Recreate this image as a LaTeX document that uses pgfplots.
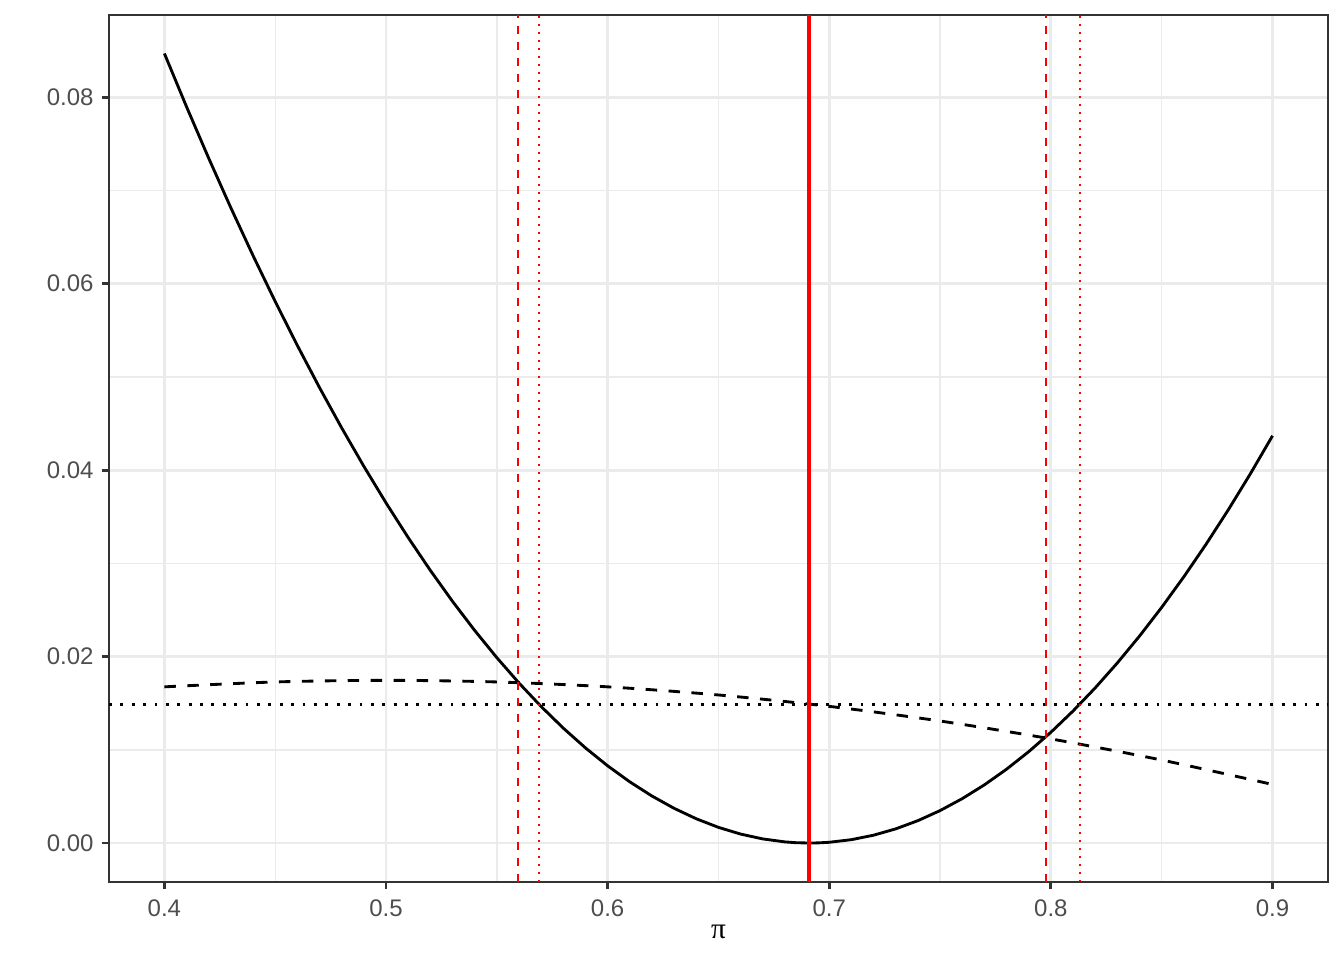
\documentclass[border=0pt]{standalone}
\usepackage{fontspec}
\setmainfont{Liberation Sans}
\newfontfamily\serif{Liberation Serif}
\usepackage{pgfplots}
\pgfplotsset{compat=1.18}
\definecolor{grid92}{HTML}{EBEBEB}
\definecolor{grey20}{HTML}{333333}
\definecolor{grey30}{HTML}{4D4D4D}
\begin{document}
\begin{tikzpicture}
\begin{axis}[
  at={(0,0)}, anchor=south west,
  scale only axis, width=457.1pt, height=325.1pt,
  xmin=0.375, xmax=0.925, ymin=-0.00418, ymax=0.0888,
  xtick={0.4,0.5,0.6,0.7,0.8,0.9},
  xticklabels={0.4,0.5,0.6,0.7,0.8,0.9},
  minor xtick={0.45,0.55,0.65,0.75,0.85},
  ytick={0,0.02,0.04,0.06,0.08},
  yticklabels={0.00,0.02,0.04,0.06,0.08},
  minor ytick={0.01,0.03,0.05,0.07},
  grid=both,
  major grid style={grid92, line width=1.07pt},
  minor grid style={grid92, line width=0.53pt},
  axis line style={grey20, line width=0.6pt},
  tick style={grey20, line width=1.07pt},
  minor tick length=0pt,
  major tick length=2.75pt,
  tick align=outside,
  xtick pos=bottom, ytick pos=left,
  ticklabel style={font=\fontsize{9}{10}\selectfont, text=grey30},
  xticklabel style={yshift=-0.5pt},
  yticklabel style={xshift=0.5pt},
  xlabel={\serif π}, xlabel style={font=\fontsize{11}{13}\selectfont, yshift=4pt},
  clip=true,
]
% horizontal dotted
\addplot[black, line width=1.07pt, dash pattern=on 1.07pt off 3.2pt] coordinates {(0.375,0.0149) (0.925,0.0149)};
% dashed curve
\addplot[black, line width=1.07pt, dash pattern=on 4.3pt off 4.3pt, smooth] coordinates {
(0.40,0.016752) (0.45,0.017276) (0.50,0.01745) (0.55,0.017276) (0.60,0.016752)
(0.65,0.01588) (0.70,0.014658) (0.75,0.013088) (0.80,0.011168) (0.85,0.0088995) (0.90,0.006282)};
% solid curve
\addplot[black, line width=1.07pt] coordinates {
(0.40,0.084681) (0.41,0.078961) (0.42,0.073441) (0.43,0.068121) (0.44,0.063001)
(0.45,0.058081) (0.46,0.053361) (0.47,0.048841) (0.48,0.044521) (0.49,0.040401)
(0.50,0.036481) (0.51,0.032761) (0.52,0.029241) (0.53,0.025921) (0.54,0.022801)
(0.55,0.019881) (0.56,0.017161) (0.57,0.014641) (0.58,0.012321) (0.59,0.010201)
(0.60,0.008281) (0.61,0.006561) (0.62,0.005041) (0.63,0.003721) (0.64,0.002601)
(0.65,0.001681) (0.66,0.000961) (0.67,0.000441) (0.68,0.000121) (0.685,0.000036)
(0.691,0) (0.695,0.000016) (0.70,0.000081)
(0.71,0.000361) (0.72,0.000841) (0.73,0.001521) (0.74,0.002401) (0.75,0.003481)
(0.76,0.004761) (0.77,0.006241) (0.78,0.007921) (0.79,0.009801) (0.80,0.011881)
(0.81,0.014161) (0.82,0.016641) (0.83,0.019321) (0.84,0.022201) (0.85,0.025281)
(0.86,0.028561) (0.87,0.032041) (0.88,0.035721) (0.89,0.039601) (0.90,0.043681)};
% red verticals
\addplot[red, line width=1.6pt] coordinates {(0.691,-0.00418) (0.691,0.0888)};
\addplot[red, line width=0.75pt, dash pattern=on 3pt off 3pt] coordinates {(0.5596,-0.00418) (0.5596,0.0888)};
\addplot[red, line width=0.75pt, dash pattern=on 3pt off 3pt] coordinates {(0.7977,-0.00418) (0.7977,0.0888)};
\addplot[red, line width=0.75pt, dash pattern=on 0.75pt off 2.25pt] coordinates {(0.569,-0.00418) (0.569,0.0888)};
\addplot[red, line width=0.75pt, dash pattern=on 0.75pt off 2.25pt] coordinates {(0.813,-0.00418) (0.813,0.0888)};
\end{axis}
\pgfresetboundingbox
\path[use as bounding box] (-40.875pt,-29.25pt) rectangle (463.125pt,330.75pt);
\end{tikzpicture}
\end{document}
